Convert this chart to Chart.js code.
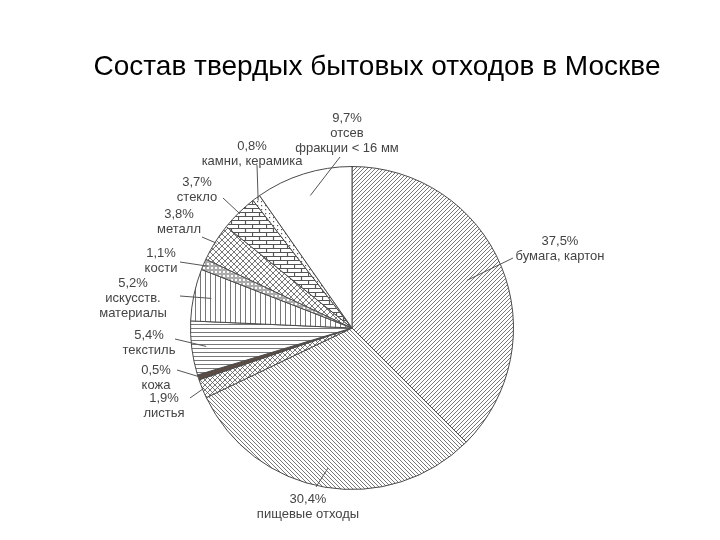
<!DOCTYPE html>
<html lang="ru">
<head>
<meta charset="utf-8">
<title>Состав твердых бытовых отходов в Москве</title>
<script src="https://cdn.jsdelivr.net/npm/chart.js@4.4.1/dist/chart.umd.min.js"></script>
<style>
  html, body { margin: 0; padding: 0; background: #fff; }
  #wrap { width: 720px; height: 540px; }
</style>
</head>
<body>
<div id="wrap"><canvas id="wasteChart" width="720" height="540"></canvas></div>
<script>
// --- data (clockwise from 12 o'clock) ---
const categories = [
  'бумага, картон', 'пищевые отходы', 'листья', 'кожа', 'текстиль',
  'искусств.\nматериалы', 'кости', 'металл', 'стекло', 'камни, керамика',
  'отсев\nфракции < 16 мм'
];
const shares = [37.5, 30.4, 1.9, 0.5, 5.4, 5.2, 1.1, 3.8, 3.7, 0.8, 9.7];

// label text centre and leader start, relative to pie centre (px);
// leader end sits on the slice at radius factor rf
const labelLayout = [
  { tx: 208, ty: -79, lx: 161, ly: -70, rf: 0.77 },
  { tx: -44, ty: 179, lx: -36, ly: 159, rf: 0.88 },
  { tx: -188, ty: 78, lx: -162, ly: 70, rf: 0.99 },
  { tx: -196, ty: 50, lx: -175, ly: 42, rf: 0.99 },
  { tx: -203, ty: 15, lx: -177, ly: 11, rf: 0.91 },
  { tx: -219, ty: -30, lx: -172, ly: -32, rf: 0.89 },
  { tx: -191, ty: -67, lx: -172, ly: -66, rf: 0.97 },
  { tx: -173, ty: -106, lx: -150, ly: -91, rf: 0.99 },
  { tx: -155, ty: -138, lx: -129, ly: -130, rf: 0.99 },
  { tx: -100, ty: -174, lx: -95, ly: -163, rf: 0.98 },
  { tx: -5, ty: -195, lx: -12, ly: -171, rf: 0.86 }
];

// --- hatch patterns ---
function tile(w, h, draw) {
  const c = document.createElement('canvas');
  c.width = w; c.height = h;
  const g = c.getContext('2d');
  g.fillStyle = '#fff';
  g.fillRect(0, 0, w, h);
  g.strokeStyle = '#555';
  g.fillStyle = '#555';
  g.lineWidth = 0.8;
  draw(g, w, h);
  return g.createPattern(c, 'repeat');
}
function slash(g, s) {
  g.beginPath();
  g.moveTo(-1, s + 1); g.lineTo(s + 1, -1);
  g.moveTo(-1, 1); g.lineTo(1, -1);
  g.moveTo(s - 1, s + 1); g.lineTo(s + 1, s - 1);
  g.stroke();
}
function backslash(g, s) {
  g.beginPath();
  g.moveTo(-1, -1); g.lineTo(s + 1, s + 1);
  g.moveTo(s - 1, -1); g.lineTo(s + 1, 1);
  g.moveTo(-1, s - 1); g.lineTo(1, s + 1);
  g.stroke();
}

const fills = [
  tile(4, 4, (g, w) => slash(g, w)),
  tile(4, 4, (g, w) => backslash(g, w)),
  tile(5, 5, (g, w) => { slash(g, w); backslash(g, w); }),
  '#5b4d45',
  tile(4, 4, (g, w) => { g.beginPath(); g.moveTo(0, 0.5); g.lineTo(w, 0.5); g.stroke(); }),
  tile(5, 5, (g, w, h) => { g.beginPath(); g.moveTo(0.5, 0); g.lineTo(0.5, h); g.stroke(); }),
  tile(4, 4, (g) => { g.beginPath(); g.arc(2, 2, 1.3, 0, Math.PI * 2); g.stroke(); }),
  tile(6, 6, (g, w) => { slash(g, w); backslash(g, w); }),
  tile(14, 8, (g) => {
    g.lineWidth = 1.2;
    g.beginPath();
    g.moveTo(0, 0.5); g.lineTo(14, 0.5);
    g.moveTo(0, 4.5); g.lineTo(14, 4.5);
    g.moveTo(0.5, 0); g.lineTo(0.5, 4);
    g.moveTo(7.5, 4); g.lineTo(7.5, 8);
    g.stroke();
  }),
  tile(4, 4, (g) => { g.fillRect(1, 1, 1.2, 1.2); }),
  '#ffffff'
];

// --- labels, leaders, title ---
const annotate = {
  id: 'annotate',
  afterDraw(chart) {
    const ctx = chart.ctx;
    const arcs = chart.getDatasetMeta(0).data;
    ctx.save();
    ctx.font = '13px "Liberation Sans", Arial, sans-serif';
    ctx.textAlign = 'center';
    ctx.textBaseline = 'middle';
    arcs.forEach((arc, i) => {
      const p = labelLayout[i];
      const cx = arc.x, cy = arc.y;
      const mid = (arc.startAngle + arc.endAngle) / 2;
      const r = arc.outerRadius * p.rf;
      ctx.strokeStyle = '#555';
      ctx.lineWidth = 1;
      ctx.beginPath();
      ctx.moveTo(cx + p.lx, cy + p.ly);
      ctx.lineTo(cx + Math.cos(mid) * r, cy + Math.sin(mid) * r);
      ctx.stroke();
      const lines = [String(shares[i]).replace('.', ',') + '%'].concat(categories[i].split('\n'));
      ctx.fillStyle = '#444';
      const top = cy + p.ty - (lines.length - 1) * 7.5;
      lines.forEach((t, k) => ctx.fillText(t, cx + p.tx, top + k * 15));
    });
    ctx.fillStyle = '#000';
    ctx.font = '28px "Liberation Sans", Arial, sans-serif';
    ctx.fillText('Состав твердых бытовых отходов в Москве', 377, 67);
    ctx.restore();
  }
};

new Chart(document.getElementById('wasteChart'), {
  type: 'pie',
  data: {
    labels: categories,
    datasets: [{
      data: shares,
      backgroundColor: fills,
      borderColor: '#4a4a4a',
      borderWidth: 1
    }]
  },
  options: {
    responsive: false,
    animation: false,
    layout: { padding: { top: 166, bottom: 50, left: 190, right: 206 } },
    plugins: {
      legend: { display: false },
      tooltip: { enabled: false }
    }
  },
  plugins: [annotate]
});
</script>
</body>
</html>
